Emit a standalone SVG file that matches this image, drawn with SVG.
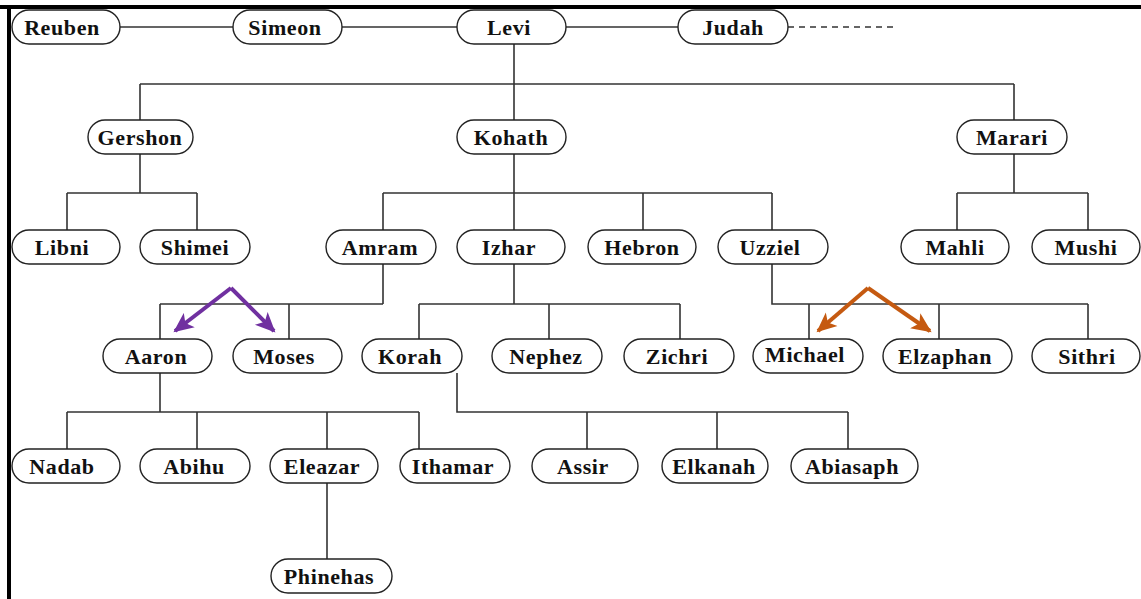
<svg xmlns="http://www.w3.org/2000/svg" width="1141" height="599" viewBox="0 0 1141 599">
<style>
.pill{fill:#fff;stroke:#222;stroke-width:1.4}
.lbl{font-family:"Liberation Serif","DejaVu Serif",serif;font-weight:bold;font-size:22px;letter-spacing:0.6px;fill:#111;text-anchor:middle}
.ln{fill:none;stroke:#333;stroke-width:1.6}
.ap{fill:none;stroke:#7030A0;stroke-width:4;marker-end:url(#ap)}
.ao{fill:none;stroke:#C55A11;stroke-width:4;marker-end:url(#ao)}
</style>
<defs>
<marker id="ap" markerUnits="userSpaceOnUse" markerWidth="22" markerHeight="20" refX="18" refY="10" orient="auto"><path d="M0,1 L20,10 L0,19 L5,10 Z" fill="#7030A0"/></marker>
<marker id="ao" markerUnits="userSpaceOnUse" markerWidth="22" markerHeight="20" refX="18" refY="10" orient="auto"><path d="M0,1 L20,10 L0,19 L5,10 Z" fill="#C55A11"/></marker>
</defs>
<rect width="1141" height="599" fill="#fff"/>
<rect x="0" y="5" width="1141" height="4" fill="#000"/>
<rect x="7" y="5" width="4" height="594" fill="#000"/>
<g id="connectors">
<path class="ln" d="M120,27H233M342,27H457M566,27H678"/>
<path class="ln" d="M788,27H895" stroke-dasharray="6,5"/>
<path class="ln" d="M514,44V120M140,84H1014M140,84V120M1014,84V120"/>
<path class="ln" d="M140,154V193M67,193H197M67,193V230M197,193V230"/>
<path class="ln" d="M514,154V230M383,193H772M383,193V230M643,193V230M772,193V230"/>
<path class="ln" d="M1014,154V193M957,193H1088M957,193V230M1088,193V230"/>
<path class="ln" d="M383,264V304M160,304H383M160,304V339M289,304V339"/>
<path class="ln" d="M514,264V304M419,304H680M419,304V339M549,304V339M680,304V339"/>
<path class="ln" d="M772,264V304H1088M809,304V339M939,304V339M1088,304V339"/>
<path class="ln" d="M160,373V412M67,412H419M67,412V449M197,412V449M327,412V449M419,412V449"/>
<path class="ln" d="M457,373V412H848M587,412V449M717,412V449M848,412V449"/>
<path class="ln" d="M327,483V559"/>
<path class="ap" d="M231,288L175,331"/>
<path class="ap" d="M231,288L274,331"/>
<path class="ao" d="M868,288L818,331"/>
<path class="ao" d="M868,288L930,331"/>
</g>
<g id="n-reuben"><rect class="pill" x="12" y="10" width="108" height="34" rx="17"/><text class="lbl" x="62" y="35">Reuben</text></g>
<g id="n-simeon"><rect class="pill" x="233" y="10" width="109" height="34" rx="17"/><text class="lbl" x="285" y="35">Simeon</text></g>
<g id="n-levi"><rect class="pill" x="457" y="10" width="109" height="34" rx="17"/><text class="lbl" x="509" y="35">Levi</text></g>
<g id="n-judah"><rect class="pill" x="678" y="10" width="110" height="34" rx="17"/><text class="lbl" x="733" y="35">Judah</text></g>
<g id="n-gershon"><rect class="pill" x="88" y="120" width="105" height="34" rx="17"/><text class="lbl" x="140" y="145">Gershon</text></g>
<g id="n-kohath"><rect class="pill" x="457" y="120" width="109" height="34" rx="17"/><text class="lbl" x="511" y="145">Kohath</text></g>
<g id="n-marari"><rect class="pill" x="957" y="120" width="110" height="34" rx="17"/><text class="lbl" x="1012" y="145">Marari</text></g>
<g id="n-libni"><rect class="pill" x="12" y="230" width="108" height="34" rx="17"/><text class="lbl" x="62" y="255">Libni</text></g>
<g id="n-shimei"><rect class="pill" x="140" y="230" width="110" height="34" rx="17"/><text class="lbl" x="195" y="255">Shimei</text></g>
<g id="n-amram"><rect class="pill" x="326" y="230" width="110" height="34" rx="17"/><text class="lbl" x="380" y="255">Amram</text></g>
<g id="n-izhar"><rect class="pill" x="457" y="230" width="108" height="34" rx="17"/><text class="lbl" x="509" y="255">Izhar</text></g>
<g id="n-hebron"><rect class="pill" x="588" y="230" width="108" height="34" rx="17"/><text class="lbl" x="642" y="255">Hebron</text></g>
<g id="n-uzziel"><rect class="pill" x="718" y="230" width="110" height="34" rx="17"/><text class="lbl" x="770" y="255">Uzziel</text></g>
<g id="n-mahli"><rect class="pill" x="901" y="230" width="108" height="34" rx="17"/><text class="lbl" x="955" y="255">Mahli</text></g>
<g id="n-mushi"><rect class="pill" x="1032" y="230" width="108" height="34" rx="17"/><text class="lbl" x="1086" y="255">Mushi</text></g>
<g id="n-aaron"><rect class="pill" x="103" y="339" width="109" height="34" rx="17"/><text class="lbl" x="156" y="364">Aaron</text></g>
<g id="n-moses"><rect class="pill" x="233" y="339" width="109" height="34" rx="17"/><text class="lbl" x="284" y="364">Moses</text></g>
<g id="n-korah"><rect class="pill" x="362" y="339" width="100" height="34" rx="17"/><text class="lbl" x="410" y="364">Korah</text></g>
<g id="n-nephez"><rect class="pill" x="492" y="339" width="110" height="34" rx="17"/><text class="lbl" x="546" y="364">Nephez</text></g>
<g id="n-zichri"><rect class="pill" x="624" y="339" width="110" height="34" rx="17"/><text class="lbl" x="677" y="364">Zichri</text></g>
<g id="n-michael"><rect class="pill" x="753" y="339" width="110" height="34" rx="17"/><text class="lbl" x="805" y="362">Michael</text></g>
<g id="n-elzaphan"><rect class="pill" x="883" y="339" width="129" height="34" rx="17"/><text class="lbl" x="945" y="364">Elzaphan</text></g>
<g id="n-sithri"><rect class="pill" x="1032" y="339" width="108" height="34" rx="17"/><text class="lbl" x="1087" y="364">Sithri</text></g>
<g id="n-nadab"><rect class="pill" x="12" y="449" width="108" height="34" rx="17"/><text class="lbl" x="62" y="474">Nadab</text></g>
<g id="n-abihu"><rect class="pill" x="140" y="449" width="110" height="34" rx="17"/><text class="lbl" x="194" y="474">Abihu</text></g>
<g id="n-eleazar"><rect class="pill" x="270" y="449" width="108" height="34" rx="17"/><text class="lbl" x="322" y="474">Eleazar</text></g>
<g id="n-ithamar"><rect class="pill" x="400" y="449" width="110" height="34" rx="17"/><text class="lbl" x="453" y="474">Ithamar</text></g>
<g id="n-assir"><rect class="pill" x="532" y="449" width="106" height="34" rx="17"/><text class="lbl" x="583" y="474">Assir</text></g>
<g id="n-elkanah"><rect class="pill" x="662" y="449" width="106" height="34" rx="17"/><text class="lbl" x="714" y="474">Elkanah</text></g>
<g id="n-abiasaph"><rect class="pill" x="791" y="449" width="127" height="34" rx="17"/><text class="lbl" x="852" y="474">Abiasaph</text></g>
<g id="n-phinehas"><rect class="pill" x="271" y="559" width="121" height="34" rx="17"/><text class="lbl" x="329" y="584">Phinehas</text></g>
</svg>
